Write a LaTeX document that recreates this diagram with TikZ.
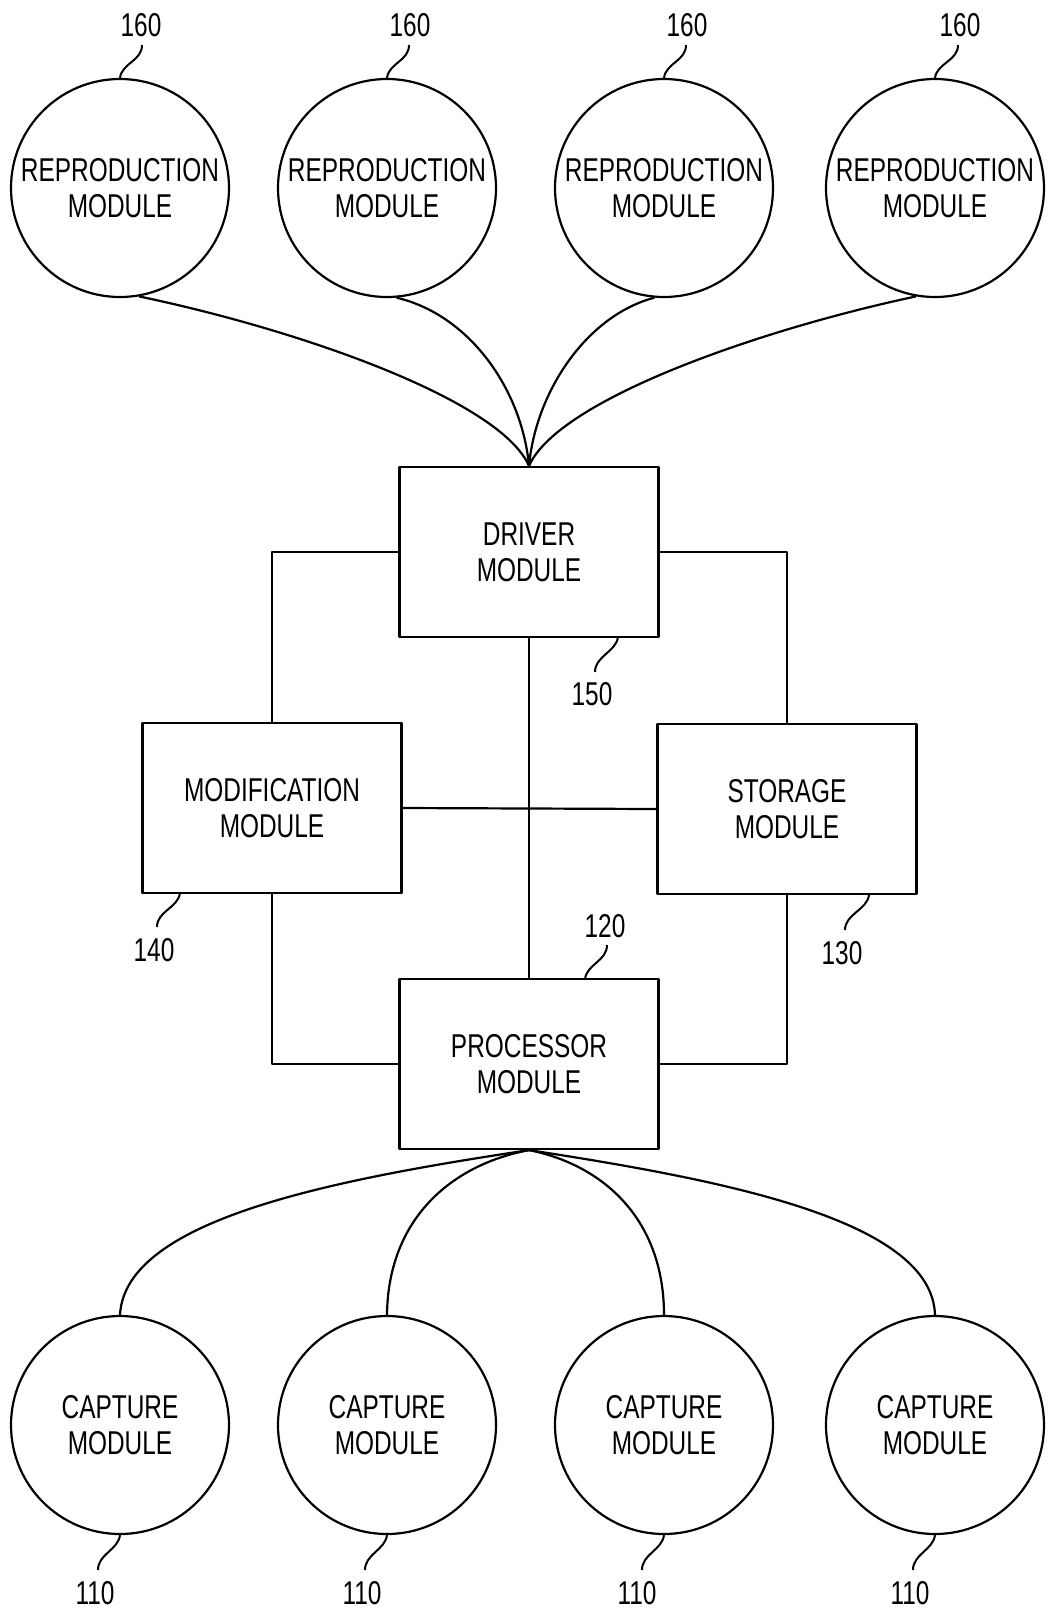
\documentclass[tikz,border=0pt]{standalone}
\usepackage{fontspec}
\setmainfont{Liberation Sans}[FakeStretch=0.74]
\begin{document}
\begin{tikzpicture}[x=1pt,y=-1pt,
  line width=2.2pt, line join=round,
  every node/.append style={font=\fontsize{33}{36}\selectfont, align=center},
  modcircle/.style={draw, circle, minimum size=218pt, inner sep=0pt},
  modbox/.style={draw, rectangle, minimum width=259pt, minimum height=170pt, inner sep=0pt},
  reflabel/.style={inner sep=0pt},
  squig/.style={line width=2pt}
]
\useasboundingbox (0,0) rectangle (1053,1615);

% top reproduction modules
\node[modcircle] (r1) at (120,188) {REPRODUCTION\\MODULE};
\node[modcircle] (r2) at (387,188) {REPRODUCTION\\MODULE};
\node[modcircle] (r3) at (664,188) {REPRODUCTION\\MODULE};
\node[modcircle] (r4) at (935,188) {REPRODUCTION\\MODULE};

% boxes
\node[modbox] (drv) at (529,552) {DRIVER\\MODULE};
\node[modbox] (mod) at (272,808) {MODIFICATION\\MODULE};
\node[modbox] (sto) at (787,809) {STORAGE\\MODULE};
\node[modbox] (proc) at (529,1064) {PROCESSOR\\MODULE};

% bottom capture modules
\node[modcircle] (c1) at (120,1425) {CAPTURE\\MODULE};
\node[modcircle] (c2) at (387,1425) {CAPTURE\\MODULE};
\node[modcircle] (c3) at (664,1425) {CAPTURE\\MODULE};
\node[modcircle] (c4) at (935,1425) {CAPTURE\\MODULE};

% reproduction to driver curves
\draw (r1.-80) .. controls (300,330) and (500,400) .. (drv.north);
\draw (r2.-85) .. controls (470,315) and (522,390) .. (drv.north);
\draw (r3.-95) .. controls (588,315) and (536,390) .. (drv.north);
\draw (r4.-100) .. controls (758,330) and (558,400) .. (drv.north);

% box interconnections
\draw (mod.north) |- (drv.west);
\draw (sto.north) |- (drv.east);
\draw (mod.south) |- (proc.west);
\draw (sto.south) |- (proc.east);
\draw (drv.south) -- (proc.north);
\draw (mod.east) -- (sto.west);

% processor to capture curves
\draw (proc.south) .. controls (330,1180) and (125,1220) .. (c1.north);
\draw (proc.south) .. controls (450,1165) and (388,1220) .. (c2.north);
\draw (proc.south) .. controls (604,1165) and (664,1220) .. (c3.north);
\draw (proc.south) .. controls (724,1180) and (932,1220) .. (c4.north);

% reference numerals
\node[reflabel] (l160a) at (141,25) {160};
\node[reflabel] (l160b) at (410,25) {160};
\node[reflabel] (l160c) at (687,25) {160};
\node[reflabel] (l160d) at (960,25) {160};
\node[reflabel] (l150) at (592,694) {150};
\node[reflabel] (l140) at (154,950) {140};
\node[reflabel] (l130) at (842,953) {130};
\node[reflabel] (l120) at (605,926) {120};
\node[reflabel] (l110a) at (95,1593) {110};
\node[reflabel] (l110b) at (362,1593) {110};
\node[reflabel] (l110c) at (637,1593) {110};
\node[reflabel] (l110d) at (910,1593) {110};

% leader end points
\coordinate (e160a) at (142,45);
\coordinate (e160b) at (409,45);
\coordinate (e160c) at (686,45);
\coordinate (e160d) at (958,45);
\coordinate (s150) at (618,637);
\coordinate (e150) at (595,672);
\coordinate (s140) at (180,893);
\coordinate (e140) at (157,927);
\coordinate (s130) at (869,895);
\coordinate (e130) at (845,930);
\coordinate (s120) at (585,979);
\coordinate (e120) at (607,945);
\coordinate (e110a) at (98,1570);
\coordinate (e110b) at (365,1570);
\coordinate (e110c) at (642,1570);
\coordinate (e110d) at (913,1570);

% leaders (upward)
\draw[squig] (r1.north) .. controls +(2,-15) and +(0,16) .. (e160a);
\draw[squig] (r2.north) .. controls +(2,-15) and +(0,16) .. (e160b);
\draw[squig] (r3.north) .. controls +(2,-15) and +(0,16) .. (e160c);
\draw[squig] (r4.north) .. controls +(2,-15) and +(0,16) .. (e160d);
\draw[squig] (s120) .. controls +(2,-15) and +(0,16) .. (e120);
% leaders (downward)
\draw[squig] (s150) .. controls +(-2,15) and +(0,-16) .. (e150);
\draw[squig] (s140) .. controls +(-2,15) and +(0,-16) .. (e140);
\draw[squig] (s130) .. controls +(-2,15) and +(0,-16) .. (e130);
\draw[squig] (c1.south) .. controls +(-2,15) and +(0,-16) .. (e110a);
\draw[squig] (c2.south) .. controls +(-2,15) and +(0,-16) .. (e110b);
\draw[squig] (c3.south) .. controls +(-2,15) and +(0,-16) .. (e110c);
\draw[squig] (c4.south) .. controls +(-2,15) and +(0,-16) .. (e110d);
\end{tikzpicture}
\end{document}
